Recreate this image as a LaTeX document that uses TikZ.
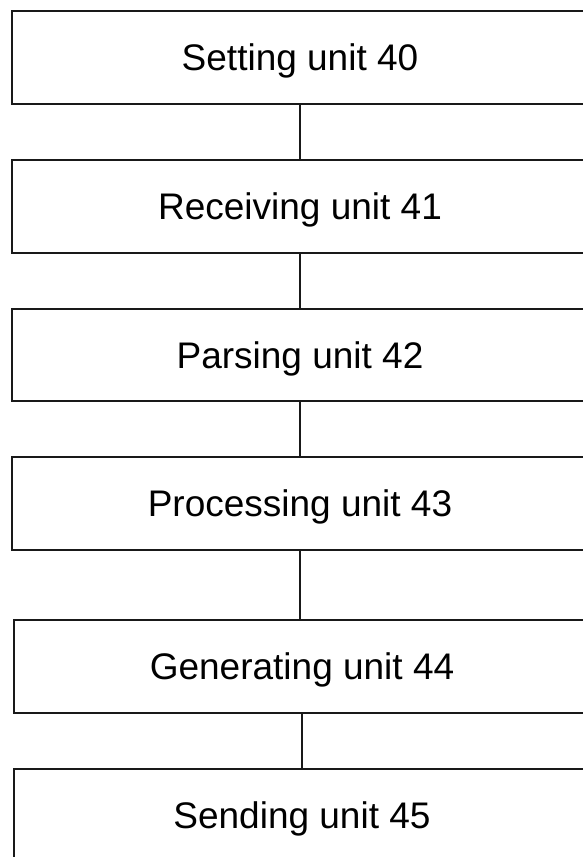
\documentclass[tikz,border=0pt]{standalone}
\usepackage{fontspec}
\setmainfont{Liberation Sans}
\begin{document}
\begin{tikzpicture}[x=1pt,y=-1pt,
  unitbox/.style={draw=black!90, line width=2.2pt, minimum width=576pt, inner sep=0pt, outer sep=0pt,
    text depth=0pt, font=\fontsize{37}{42}\selectfont},
  link/.style={draw=black!90, line width=2.2pt}]
\useasboundingbox (0,0) rectangle (583,857);
\clip (0,0) rectangle (583,857);
\node[unitbox, minimum height=93pt] (b0) at (300,57.5) {Setting unit 40};
\node[unitbox, minimum height=93pt] (b1) at (300,206.5) {Receiving unit 41};
\node[unitbox, minimum height=92pt] (b2) at (300,355) {Parsing unit 42};
\node[unitbox, minimum height=93pt] (b3) at (300,503.5) {Processing unit 43};
\node[unitbox, minimum height=93pt] (b4) at (302,666.5) {Generating unit 44};
\node[unitbox, minimum height=93pt] (b5) at (302,815.5) {Sending unit 45};
\draw[link] (b0.south) -- (b1.north);
\draw[link] (b1.south) -- (b2.north);
\draw[link] (b2.south) -- (b3.north);
\draw[link] (b3.south) -- (b3.south |- b4.north);
\draw[link] (b4.south) -- (b5.north);
\end{tikzpicture}
\end{document}
